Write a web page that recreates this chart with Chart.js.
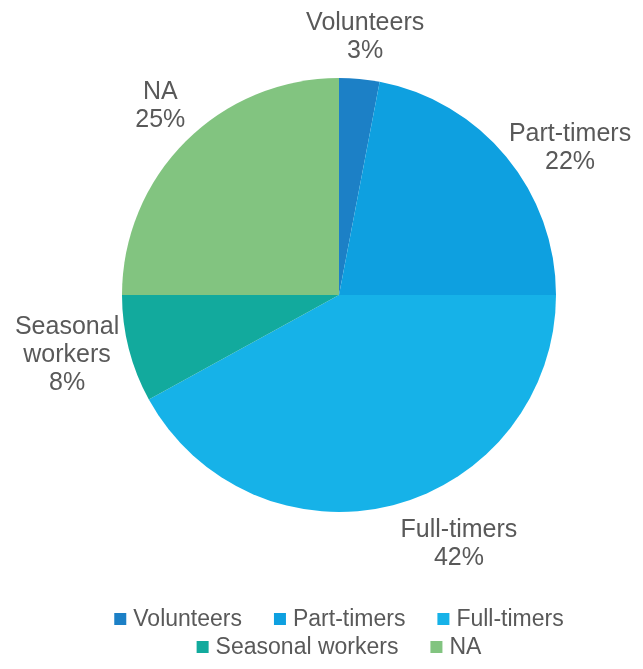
<!DOCTYPE html>
<html>
<head>
<meta charset="utf-8">
<title>Workforce composition</title>
<script src="https://cdn.jsdelivr.net/npm/chart.js@4/dist/chart.umd.min.js"></script>
<style>
  html, body { margin: 0; padding: 0; background: #fff; }
  #chart { display: block; }
</style>
</head>
<body>
<canvas id="chart" width="643" height="669"></canvas>
<script>
// share of staff by type, in percent
const categories = ['Volunteers', 'Part-timers', 'Full-timers', 'Seasonal workers', 'NA'];
const shares = [3, 22, 42, 8, 25];
const colors = ['#1c80c6', '#0ea0e0', '#16b2e8', '#12aa9d', '#82c480'];

const FONT = '"Liberation Sans", Arial, sans-serif';
const TEXT = '#595959';

// per-slice shift of the outside labels, px
const labelNudge = [[2, -2], [33, 17], [56, 0], [-23, -4], [3, -7]];

// outside labels: name (one word per line) + percentage
const sliceLabels = {
    id: 'sliceLabels',
    afterDatasetsDraw(chart) {
        const ctx = chart.ctx;
        const meta = chart.getDatasetMeta(0);
        const lineH = 28;
        ctx.save();
        ctx.font = '25px ' + FONT;
        ctx.fillStyle = TEXT;
        ctx.textAlign = 'center';
        ctx.textBaseline = 'middle';
        meta.data.forEach((arc, i) => {
            const p = arc.getProps(['x', 'y', 'startAngle', 'endAngle', 'outerRadius'], true);
            const mid = (p.startAngle + p.endAngle) / 2;
            const r = p.outerRadius + 40;
            const cx = p.x + Math.cos(mid) * r + labelNudge[i][0];
            const cy = p.y + Math.sin(mid) * r + labelNudge[i][1];
            const lines = categories[i].split(' ').concat(shares[i] + '%');
            const top = cy - (lines.length - 1) * lineH / 2;
            lines.forEach((t, j) => ctx.fillText(t, cx, top + j * lineH));
        });
        ctx.restore();
    }
};

// legend under the pie, centred on it, wrapping onto a second row
const bottomLegend = {
    id: 'bottomLegend',
    afterDraw(chart) {
        const ctx = chart.ctx;
        const area = chart.chartArea;
        const box = 12, gap = 7, spacing = 32, rowH = 28, maxW = 600;
        ctx.save();
        ctx.font = '23px ' + FONT;
        ctx.textBaseline = 'middle';
        ctx.textAlign = 'left';

        const rows = [[]];
        let w = 0;
        categories.forEach((name, i) => {
            const itemW = box + gap + ctx.measureText(name).width;
            const add = rows[rows.length - 1].length ? spacing + itemW : itemW;
            if (w + add > maxW && rows[rows.length - 1].length) {
                rows.push([]);
                w = itemW;
            } else {
                w += add;
            }
            rows[rows.length - 1].push({ i, itemW });
        });

        const midX = (area.left + area.right) / 2;
        let y = area.bottom + 107;
        rows.forEach(row => {
            const total = row.reduce((s, it) => s + it.itemW, 0) + spacing * (row.length - 1);
            let x = midX - total / 2;
            row.forEach(it => {
                ctx.fillStyle = colors[it.i];
                ctx.fillRect(x, y - box / 2, box, box);
                ctx.fillStyle = TEXT;
                ctx.fillText(categories[it.i], x + box + gap, y + 1);
                x += it.itemW + spacing;
            });
            y += rowH;
        });
        ctx.restore();
    }
};

new Chart(document.getElementById('chart'), {
    type: 'pie',
    data: {
        labels: categories,
        datasets: [{
            data: shares,
            backgroundColor: colors,
            borderWidth: 0
        }]
    },
    options: {
        responsive: false,
        animation: false,
        layout: { padding: { left: 122, right: 87, top: 78, bottom: 157 } },
        plugins: {
            legend: { display: false },
            tooltip: { enabled: false }
        }
    },
    plugins: [sliceLabels, bottomLegend]
});
</script>
</body>
</html>
